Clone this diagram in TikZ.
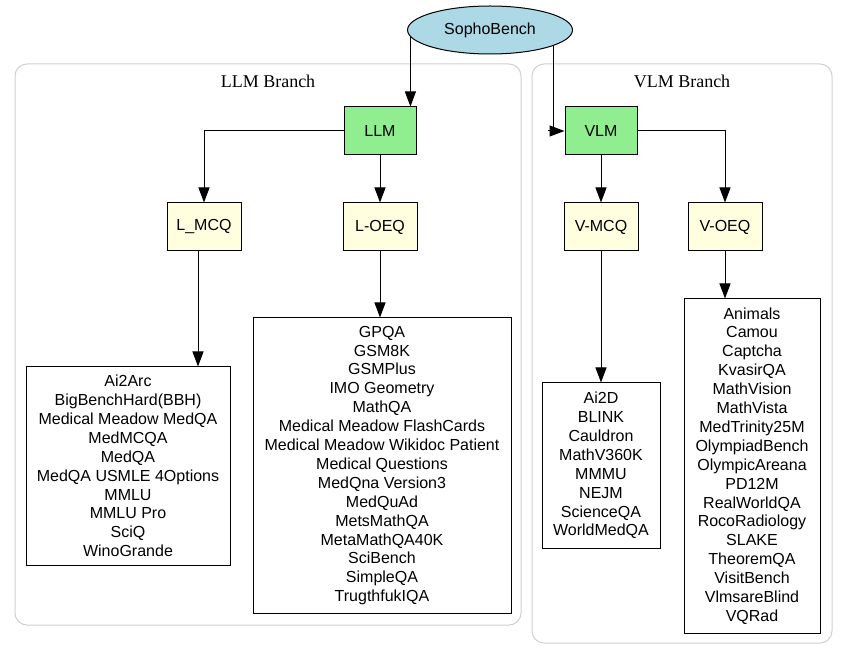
\documentclass[tikz,border=0pt]{standalone}
\usepackage{fontspec}
\setmainfont{Liberation Sans}
\newfontfamily\branchfont{Liberation Serif}
\usetikzlibrary{shapes.geometric,arrows.meta}
\definecolor{rootblue}{RGB}{173,216,230}
\definecolor{modelgreen}{RGB}{144,238,144}
\definecolor{tasklight}{RGB}{255,255,224}
\definecolor{clusterline}{RGB}{208,208,208}
\tikzset{
  root/.style={ellipse, draw, fill=rootblue, minimum width=165pt, minimum height=48pt, inner sep=0pt},
  model/.style={draw, fill=modelgreen, minimum width=72pt, minimum height=48pt},
  task/.style={draw, fill=tasklight, minimum width=74pt, minimum height=48pt},
  datalist/.style={draw, align=center, inner sep=0pt},
  branch/.style={draw=clusterline, line width=1pt, rounded corners=12pt},
  branchtitle/.style={font=\branchfont\fontsize{18}{20}\selectfont},
  arr/.style={-{Triangle[length=15pt,width=11pt]}}
}
\newcommand{\lmcqsets}{Ai2Arc\\BigBenchHard(BBH)\\Medical Meadow MedQA\\MedMCQA\\MedQA\\MedQA USMLE 4Options\\MMLU\\MMLU Pro\\SciQ\\WinoGrande}
\newcommand{\loeqsets}{GPQA\\GSM8K\\GSMPlus\\IMO Geometry\\MathQA\\Medical Meadow FlashCards\\Medical Meadow Wikidoc Patient\\Medical Questions\\MedQna Version3\\MedQuAd\\MetsMathQA\\MetaMathQA40K\\SciBench\\SimpleQA\\TrugthfukIQA}
\newcommand{\vmcqsets}{Ai2D\\BLINK\\Cauldron\\MathV360K\\MMMU\\NEJM\\ScienceQA\\WorldMedQA}
\newcommand{\voeqsets}{Animals\\Camou\\Captcha\\KvasirQA\\MathVision\\MathVista\\MedTrinity25M\\OlympiadBench\\OlympicAreana\\PD12M\\RealWorldQA\\RocoRadiology\\SLAKE\\TheoremQA\\VisitBench\\VlmsareBlind\\VQRad}
\begin{document}
\begin{tikzpicture}[x=1pt, y=1pt, line width=1pt, every node/.style={font=\fontsize{16}{18.9}\selectfont}]
\useasboundingbox (0,0) rectangle (847,-660);

% branches
\draw[branch] (15,-64) rectangle (521,-625);
\draw[branch] (532,-64) rectangle (832,-643);
\node[branchtitle] (llmtitle) at (268,-81) {LLM Branch};
\node[branchtitle] (vlmtitle) at (682,-81) {VLM Branch};

% nodes
\node[root] (sb) at (490,-30) {SophoBench};
\node[model] (llm) at (380,-131) {LLM};
\node[model] (vlm) at (601,-131) {VLM};
\node[task] (lmcq) at (204,-227) {L\_MCQ};
\node[task] (loeq) at (380,-227) {L-OEQ};
\node[task] (vmcq) at (601,-227) {V-MCQ};
\node[task] (voeq) at (725,-227) {V-OEQ};

% dataset lists
\node[datalist, minimum width=204pt, minimum height=198pt] (lmcqlist) at (128,-466) {\lmcqsets};
\node[datalist, minimum width=258pt, minimum height=295pt] (loeqlist) at (382,-465.5) {\loeqsets};
\node[datalist, minimum width=118pt, minimum height=165pt] (vmcqlist) at (601,-465.5) {\vmcqsets};
\node[datalist, minimum width=136pt, minimum height=334pt] (voeqlist) at (752,-466) {\voeqsets};

% edges
\draw[arr] (sb.185) -- (sb.185 |- llm.north);
\draw (sb.-14) -- (sb.-14 |- vlm.west);
\draw[arr] ([xshift=-17pt]vlm.west) -- (vlm.west);
\draw[arr] (llm.west) -| (lmcq.north);
\draw[arr] (llm.south) -- (loeq.north);
\draw[arr] (vlm.south) -- (vmcq.north);
\draw[arr] (vlm.east) -| (voeq.north);
\draw[arr] ([xshift=-6pt]lmcq.south) -- ([xshift=-6pt]lmcq.south |- lmcqlist.north);
\draw[arr] (loeq.south) -- (loeq.south |- loeqlist.north);
\draw[arr] (vmcq.south) -- (vmcq.south |- vmcqlist.north);
\draw[arr] (voeq.south) -- (voeq.south |- voeqlist.north);
\end{tikzpicture}
\end{document}
